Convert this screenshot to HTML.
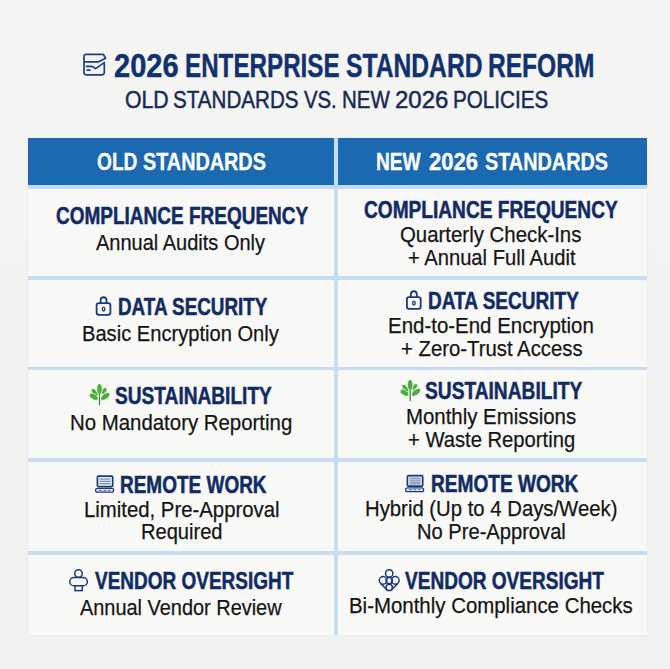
<!DOCTYPE html>
<html><head><meta charset="utf-8">
<style>
html,body{margin:0;padding:0;}
body{width:670px;height:669px;overflow:hidden;position:relative;background:linear-gradient(#f5f5f4,#f2f2f0 60%,#f1f1ef);font-family:"Liberation Sans",sans-serif;}
.t{position:absolute;white-space:nowrap;transform-origin:0 0;}
.box{position:absolute;}
</style></head><body>
<!-- table body -->
<div class="box" style="left:28px;top:138px;width:619px;height:497px;background:#f8f8f7;box-shadow:0 0 2px rgba(0,0,0,0.06);"></div>
<!-- header -->
<div class="box" style="left:28px;top:138px;width:306px;height:47px;background:#1a69b1;"></div>
<div class="box" style="left:338px;top:138px;width:309px;height:47px;background:#1a69b1;"></div>
<!-- vertical divider -->
<div class="box" style="left:334.3px;top:138px;width:3.6px;height:497px;background:#c6ddf4;"></div>
<!-- horizontal separators -->
<div class="box" style="left:28px;top:185px;width:619px;height:3.6px;background:#c4dcf3;"></div>
<div class="box" style="left:28px;top:276px;width:619px;height:3.6px;background:#c6ddf4;"></div>
<div class="box" style="left:28px;top:366.6px;width:619px;height:3.5px;background:#c6ddf4;"></div>
<div class="box" style="left:28px;top:458px;width:619px;height:3.5px;background:#c6ddf4;"></div>
<div class="box" style="left:28px;top:551px;width:619px;height:3.5px;background:#c6ddf4;"></div>
<svg width="670" height="669" viewBox="0 0 670 669" style="position:absolute;left:0;top:0">
<g fill="none" stroke="#1b3f86" stroke-width="1.7" stroke-linejoin="round" stroke-linecap="round">
<path d="M104.3,62.6 V72.6 a2.2,2.2 0 0 1 -2.2,2.2 H86.2 a2.2,2.2 0 0 1 -2.2,-2.2 V56.6 a2.2,2.2 0 0 1 2.2,-2.2 H102.3 a2,2 0 0 1 2,1.6 L105.6,58.2 L98.6,61.8 H84"/>
<path d="M86.5,66.4 H91.5 Q93.5,66.6 95.5,68.6 L104.3,62.6"/>
<path d="M87.2,70.1 H90"/>
</g>
<g transform="translate(0,0)" fill="none" stroke="#1b3a7a" stroke-width="1.8">
<rect x="96.6" y="303.1" width="13.8" height="11.8" rx="2.3"/>
<path d="M100.6,303 V300.2 a2.95,2.95 0 0 1 5.9,0 V303"/>
<ellipse cx="103.6" cy="309.1" rx="1.25" ry="2.0" stroke-width="1.4"/>
</g>
<g transform="translate(310.3,-6.0)" fill="none" stroke="#1b3a7a" stroke-width="1.8">
<rect x="96.6" y="303.1" width="13.8" height="11.8" rx="2.3"/>
<path d="M100.6,303 V300.2 a2.95,2.95 0 0 1 5.9,0 V303"/>
<ellipse cx="103.6" cy="309.1" rx="1.25" ry="2.0" stroke-width="1.4"/>
</g>
<ellipse cx="94.65" cy="392.45" rx="4.65" ry="2.30" transform="rotate(-126.3 94.65 392.45)" fill="#4aae3a" stroke="#f7f8f6" stroke-width="0.7"/>
<ellipse cx="104.00" cy="390.95" rx="3.87" ry="2.20" transform="rotate(-49.7 104.00 390.95)" fill="#4aae3a" stroke="#f7f8f6" stroke-width="0.7"/>
<ellipse cx="99.45" cy="388.95" rx="5.45" ry="2.75" transform="rotate(-90.0 99.45 388.95)" fill="#4aae3a" stroke="#f7f8f6" stroke-width="0.7"/>
<ellipse cx="93.80" cy="396.80" rx="4.89" ry="2.75" transform="rotate(-149.2 93.80 396.80)" fill="#4aae3a" stroke="#f7f8f6" stroke-width="0.7"/>
<ellipse cx="105.30" cy="396.40" rx="5.42" ry="2.80" transform="rotate(-37.5 105.30 396.40)" fill="#4aae3a" stroke="#f7f8f6" stroke-width="0.7"/>
<line x1="99.5" y1="394.5" x2="99.5" y2="404.8" stroke="#f8f8f7" stroke-width="2.6"/>
<line x1="99.5" y1="394.5" x2="99.5" y2="404.8" stroke="#3f8f3a" stroke-width="1.3" stroke-linecap="round"/>
<ellipse cx="405.35" cy="388.35" rx="4.65" ry="2.30" transform="rotate(-126.3 405.35 388.35)" fill="#4aae3a" stroke="#f7f8f6" stroke-width="0.7"/>
<ellipse cx="414.70" cy="386.85" rx="3.87" ry="2.20" transform="rotate(-49.7 414.70 386.85)" fill="#4aae3a" stroke="#f7f8f6" stroke-width="0.7"/>
<ellipse cx="410.15" cy="384.85" rx="5.45" ry="2.75" transform="rotate(-90.0 410.15 384.85)" fill="#4aae3a" stroke="#f7f8f6" stroke-width="0.7"/>
<ellipse cx="404.50" cy="392.70" rx="4.89" ry="2.75" transform="rotate(-149.2 404.50 392.70)" fill="#4aae3a" stroke="#f7f8f6" stroke-width="0.7"/>
<ellipse cx="416.00" cy="392.30" rx="5.42" ry="2.80" transform="rotate(-37.5 416.00 392.30)" fill="#4aae3a" stroke="#f7f8f6" stroke-width="0.7"/>
<line x1="410.2" y1="390.4" x2="410.2" y2="400.7" stroke="#f8f8f7" stroke-width="2.6"/>
<line x1="410.2" y1="390.4" x2="410.2" y2="400.7" stroke="#3f8f3a" stroke-width="1.3" stroke-linecap="round"/>
<g transform="translate(0,0)">
<rect x="97.4" y="476.1" width="15.3" height="10.5" rx="1.2" fill="#eef3fa" stroke="#1b3a7a" stroke-width="1.7"/>
<line x1="99.5" y1="479.0" x2="110.6" y2="479.0" stroke="#62769a" stroke-width="1.05"/>
<line x1="99.5" y1="481.3" x2="110.6" y2="481.3" stroke="#62769a" stroke-width="1.05"/>
<line x1="99.5" y1="483.7" x2="110.6" y2="483.7" stroke="#62769a" stroke-width="1.05"/>
<rect x="95.6" y="488.3" width="18" height="3.8" rx="1.9" fill="#eaf1fa" stroke="#1b3a7a" stroke-width="1.3"/>
<line x1="98.8" y1="490.2" x2="110.4" y2="490.2" stroke="#3a5a90" stroke-width="1.1" stroke-dasharray="3 1.6"/>
</g>
<g transform="translate(310,-0.4)">
<rect x="97.4" y="476.1" width="15.3" height="10.5" rx="1.2" fill="#eef3fa" stroke="#1b3a7a" stroke-width="1.7"/>
<line x1="99.5" y1="478.5" x2="110.6" y2="478.5" stroke="#62769a" stroke-width="1.05"/>
<line x1="99.5" y1="480.5" x2="110.6" y2="480.5" stroke="#62769a" stroke-width="1.05"/>
<line x1="99.5" y1="482.5" x2="110.6" y2="482.5" stroke="#62769a" stroke-width="1.05"/>
<line x1="99.5" y1="484.3" x2="110.6" y2="484.3" stroke="#62769a" stroke-width="1.05"/>
<rect x="95.6" y="488.3" width="18" height="3.8" rx="1.9" fill="#eaf1fa" stroke="#1b3a7a" stroke-width="1.3"/>
<line x1="98.8" y1="490.2" x2="110.4" y2="490.2" stroke="#3a5a90" stroke-width="1.1" stroke-dasharray="3 1.6"/>
</g>
<g fill="none" stroke="#1b3a7a" stroke-width="1.5">
<rect x="69.8" y="577.5" width="17.5" height="8.3" rx="4.15"/>
<rect x="75.0" y="585.8" width="7.3" height="4.8" fill="#f8f8f7"/>
<circle cx="78.5" cy="573.5" r="3.75" fill="#f8f8f7"/>
</g>
<g transform="translate(0,0)" fill="none" stroke="#1b3a7a" stroke-width="1.5">
<circle cx="389.2" cy="573.4" r="3.7"/>
<circle cx="383.1" cy="580.4" r="3.8"/>
<circle cx="395.3" cy="580.4" r="3.8"/>
<circle cx="389.2" cy="580.6" r="3.2"/>
<circle cx="389.2" cy="587.4" r="3.2"/>
<path d="M380.6,583.4 L386.6,589.6 M397.8,583.4 L391.8,589.6"/>
</g>
</svg>
<div class="t" style="left:114.43px;top:48.60px;font-size:33.2px;line-height:33.2px;font-weight:700;color:#11316f;transform:scaleX(0.8757);-webkit-text-stroke:0.4px #11316f;">2026</div>
<div class="t" style="left:185.21px;top:48.60px;font-size:33.2px;line-height:33.2px;font-weight:700;color:#11316f;transform:scaleX(0.7290);-webkit-text-stroke:0.4px #11316f;">ENTERPRISE</div>
<div class="t" style="left:345.76px;top:48.60px;font-size:33.2px;line-height:33.2px;font-weight:700;color:#11316f;transform:scaleX(0.7431);-webkit-text-stroke:0.4px #11316f;">STANDARD</div>
<div class="t" style="left:487.88px;top:48.60px;font-size:33.2px;line-height:33.2px;font-weight:700;color:#11316f;transform:scaleX(0.7401);-webkit-text-stroke:0.4px #11316f;">REFORM</div>
<div class="t" style="left:125.14px;top:87.98px;font-size:24.6px;line-height:24.6px;font-weight:400;color:#172a55;transform:scaleX(0.8628);-webkit-text-stroke:0.5px #172a55;">OLD</div>
<div class="t" style="left:173.27px;top:87.98px;font-size:24.6px;line-height:24.6px;font-weight:400;color:#172a55;transform:scaleX(0.8374);-webkit-text-stroke:0.5px #172a55;">STANDARDS</div>
<div class="t" style="left:304.30px;top:87.98px;font-size:24.6px;line-height:24.6px;font-weight:400;color:#172a55;transform:scaleX(0.8265);-webkit-text-stroke:0.5px #172a55;">VS.</div>
<div class="t" style="left:341.66px;top:87.98px;font-size:24.6px;line-height:24.6px;font-weight:400;color:#172a55;transform:scaleX(0.8329);-webkit-text-stroke:0.5px #172a55;">NEW</div>
<div class="t" style="left:394.50px;top:87.98px;font-size:24.6px;line-height:24.6px;font-weight:400;color:#172a55;transform:scaleX(0.9771);-webkit-text-stroke:0.5px #172a55;">2026</div>
<div class="t" style="left:453.15px;top:87.98px;font-size:24.6px;line-height:24.6px;font-weight:400;color:#172a55;transform:scaleX(0.8393);-webkit-text-stroke:0.5px #172a55;">POLICIES</div>
<div class="t" style="left:97.33px;top:150.56px;font-size:23.2px;line-height:23.2px;font-weight:700;color:#fff;transform:scaleX(0.8260);-webkit-text-stroke:0.3px #fff;">OLD</div>
<div class="t" style="left:143.21px;top:150.56px;font-size:23.2px;line-height:23.2px;font-weight:700;color:#fff;transform:scaleX(0.8543);-webkit-text-stroke:0.3px #fff;">STANDARDS</div>
<div class="t" style="left:376.16px;top:150.76px;font-size:23.2px;line-height:23.2px;font-weight:700;color:#fff;transform:scaleX(0.8258);-webkit-text-stroke:0.3px #fff;">NEW</div>
<div class="t" style="left:428.84px;top:150.76px;font-size:23.2px;line-height:23.2px;font-weight:700;color:#fff;transform:scaleX(0.9519);-webkit-text-stroke:0.3px #fff;">2026</div>
<div class="t" style="left:484.70px;top:150.76px;font-size:23.2px;line-height:23.2px;font-weight:700;color:#fff;transform:scaleX(0.8550);-webkit-text-stroke:0.3px #fff;">STANDARDS</div>
<div class="t" style="left:55.54px;top:204.86px;font-size:23.2px;line-height:23.2px;font-weight:700;color:#122b65;transform:scaleX(0.8190);-webkit-text-stroke:0.5px #122b65;">COMPLIANCE FREQUENCY</div>
<div class="t" style="left:95.50px;top:230.52px;font-size:22.9px;line-height:22.9px;font-weight:400;color:#151515;transform:scaleX(0.8739);-webkit-text-stroke:0.25px #151515;">Annual Audits Only</div>
<div class="t" style="left:117.68px;top:296.26px;font-size:23.2px;line-height:23.2px;font-weight:700;color:#122b65;transform:scaleX(0.8126);-webkit-text-stroke:0.5px #122b65;">DATA SECURITY</div>
<div class="t" style="left:81.99px;top:321.82px;font-size:22.9px;line-height:22.9px;font-weight:400;color:#151515;transform:scaleX(0.8788);-webkit-text-stroke:0.25px #151515;">Basic Encryption Only</div>
<div class="t" style="left:114.83px;top:385.06px;font-size:23.2px;line-height:23.2px;font-weight:700;color:#122b65;transform:scaleX(0.8246);-webkit-text-stroke:0.5px #122b65;">SUSTAINABILITY</div>
<div class="t" style="left:70.07px;top:411.02px;font-size:22.9px;line-height:22.9px;font-weight:400;color:#151515;transform:scaleX(0.8912);-webkit-text-stroke:0.25px #151515;">No Mandatory Reporting</div>
<div class="t" style="left:119.77px;top:474.16px;font-size:23.2px;line-height:23.2px;font-weight:700;color:#122b65;transform:scaleX(0.8186);-webkit-text-stroke:0.5px #122b65;">REMOTE WORK</div>
<div class="t" style="left:83.77px;top:497.52px;font-size:22.9px;line-height:22.9px;font-weight:400;color:#151515;transform:scaleX(0.8886);-webkit-text-stroke:0.25px #151515;">Limited, Pre-Approval</div>
<div class="t" style="left:141.09px;top:519.62px;font-size:22.9px;line-height:22.9px;font-weight:400;color:#151515;transform:scaleX(0.8778);-webkit-text-stroke:0.25px #151515;">Required</div>
<div class="t" style="left:95.21px;top:569.96px;font-size:23.2px;line-height:23.2px;font-weight:700;color:#122b65;transform:scaleX(0.8187);-webkit-text-stroke:0.5px #122b65;">VENDOR OVERSIGHT</div>
<div class="t" style="left:80.00px;top:596.02px;font-size:22.9px;line-height:22.9px;font-weight:400;color:#151515;transform:scaleX(0.8703);-webkit-text-stroke:0.25px #151515;">Annual Vendor Review</div>
<div class="t" style="left:364.34px;top:199.46px;font-size:23.2px;line-height:23.2px;font-weight:700;color:#122b65;transform:scaleX(0.8239);-webkit-text-stroke:0.5px #122b65;">COMPLIANCE FREQUENCY</div>
<div class="t" style="left:399.98px;top:222.82px;font-size:22.9px;line-height:22.9px;font-weight:400;color:#151515;transform:scaleX(0.8912);-webkit-text-stroke:0.25px #151515;">Quarterly Check-Ins</div>
<div class="t" style="left:407.99px;top:246.02px;font-size:22.9px;line-height:22.9px;font-weight:400;color:#151515;transform:scaleX(0.8808);-webkit-text-stroke:0.25px #151515;">+ Annual Full Audit</div>
<div class="t" style="left:427.97px;top:290.06px;font-size:23.2px;line-height:23.2px;font-weight:700;color:#122b65;transform:scaleX(0.8214);-webkit-text-stroke:0.5px #122b65;">DATA SECURITY</div>
<div class="t" style="left:388.36px;top:314.22px;font-size:22.9px;line-height:22.9px;font-weight:400;color:#151515;transform:scaleX(0.8936);-webkit-text-stroke:0.25px #151515;">End-to-End Encryption</div>
<div class="t" style="left:400.88px;top:336.72px;font-size:22.9px;line-height:22.9px;font-weight:400;color:#151515;transform:scaleX(0.8877);-webkit-text-stroke:0.25px #151515;">+ Zero-Trust Access</div>
<div class="t" style="left:425.42px;top:380.06px;font-size:23.2px;line-height:23.2px;font-weight:700;color:#122b65;transform:scaleX(0.8267);-webkit-text-stroke:0.5px #122b65;">SUSTAINABILITY</div>
<div class="t" style="left:406.27px;top:404.92px;font-size:22.9px;line-height:22.9px;font-weight:400;color:#151515;transform:scaleX(0.8914);-webkit-text-stroke:0.25px #151515;">Monthly Emissions</div>
<div class="t" style="left:408.39px;top:427.62px;font-size:22.9px;line-height:22.9px;font-weight:400;color:#151515;transform:scaleX(0.8825);-webkit-text-stroke:0.25px #151515;">+ Waste Reporting</div>
<div class="t" style="left:431.26px;top:473.06px;font-size:23.2px;line-height:23.2px;font-weight:700;color:#122b65;transform:scaleX(0.8231);-webkit-text-stroke:0.5px #122b65;">REMOTE WORK</div>
<div class="t" style="left:364.87px;top:496.62px;font-size:22.9px;line-height:22.9px;font-weight:400;color:#151515;transform:scaleX(0.8872);-webkit-text-stroke:0.25px #151515;">Hybrid (Up to 4 Days/Week)</div>
<div class="t" style="left:417.39px;top:519.62px;font-size:22.9px;line-height:22.9px;font-weight:400;color:#151515;transform:scaleX(0.8794);-webkit-text-stroke:0.25px #151515;">No Pre-Approval</div>
<div class="t" style="left:405.01px;top:569.96px;font-size:23.2px;line-height:23.2px;font-weight:700;color:#122b65;transform:scaleX(0.8216);-webkit-text-stroke:0.5px #122b65;">VENDOR OVERSIGHT</div>
<div class="t" style="left:349.07px;top:593.82px;font-size:22.9px;line-height:22.9px;font-weight:400;color:#151515;transform:scaleX(0.8921);-webkit-text-stroke:0.25px #151515;">Bi-Monthly Compliance Checks</div>
</body></html>
